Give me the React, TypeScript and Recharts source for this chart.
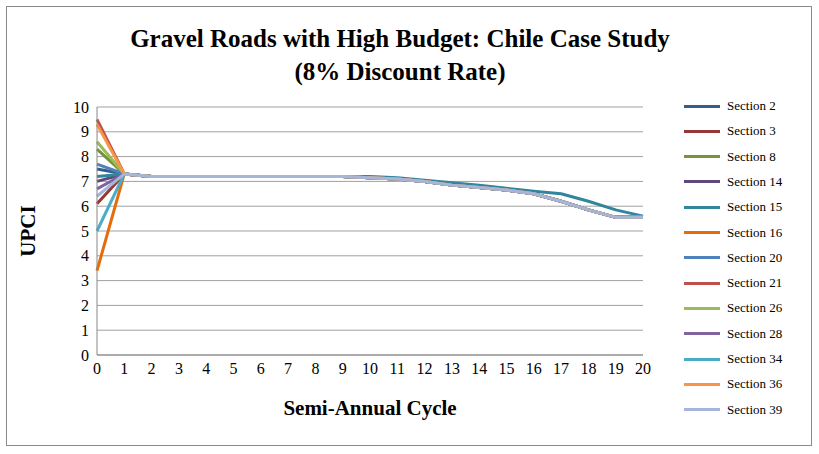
import * as React from 'react';
import { CartesianGrid, Line, LineChart, XAxis, YAxis } from 'recharts';

const CYCLES = Array.from({ length: 21 }, (_, i) => i);
const SECTIONS = ['Section 2', 'Section 3', 'Section 8', 'Section 14', 'Section 15', 'Section 16', 'Section 20', 'Section 21', 'Section 26', 'Section 28', 'Section 34', 'Section 36', 'Section 39'];
const COLORS = ['#385D8A', '#953735', '#77933C', '#5F497A', '#31859C', '#E46C0A', '#4F81BD', '#C0504D', '#9BBB59', '#8064A2', '#4BACC6', '#F79646', '#A5B6DA'];
// value at cycle 0 for each section
const START = [7.5, 6.1, 8.3, 7.0, 7.2, 3.4, 7.7, 9.5, 8.6, 6.7, 5.0, 9.3, 6.4];
// cycles 1..20
const MAIN_TAIL = [7.3, 7.2, 7.2, 7.2, 7.2, 7.2, 7.2, 7.2, 7.2, 7.15, 7.1, 7.0, 6.85, 6.75, 6.65, 6.5, 6.2, 5.85, 5.55, 5.55];
const S15_TAIL = [7.3, 7.2, 7.2, 7.2, 7.2, 7.2, 7.2, 7.2, 7.2, 7.2, 7.15, 7.05, 6.95, 6.85, 6.72, 6.6, 6.5, 6.2, 5.85, 5.6];

const data = CYCLES.map(c => {
  const row: Record<string, number> = { cycle: c };
  SECTIONS.forEach((s, i) => {
    const tail = s === 'Section 15' ? S15_TAIL : MAIN_TAIL;
    row[s] = c === 0 ? START[i] : tail[c - 1];
  });
  return row;
});

const FONT = '"Times New Roman", "Liberation Serif", serif';

export default function App() {
  return (
    <div style={{ position: 'fixed', left: 0, top: 0, width: 819, height: 454, background: '#fff', fontFamily: FONT }}>
      <div style={{ position: 'absolute', left: 6, top: 6, width: 804, height: 438, border: '1px solid #8a8a8a' }} />
      <div style={{ position: 'absolute', left: 60, width: 680, top: 22, textAlign: 'center', fontWeight: 'bold', fontSize: 25, lineHeight: '33px' }}>
        Gravel Roads with High Budget: Chile Case Study
        <br />
        (8% Discount Rate)
      </div>
      <div style={{ position: 'absolute', left: 28, top: 231, transform: 'translate(-50%,-50%) rotate(-90deg)', fontWeight: 'bold', fontSize: 21 }}>UPCI</div>
      <div style={{ position: 'absolute', left: 97, width: 546, top: 396, textAlign: 'center', fontWeight: 'bold', fontSize: 21 }}>Semi-Annual Cycle</div>
      <LineChart width={819} height={454} data={data} margin={{ top: 107, right: 176, bottom: 74, left: 67 }} style={{ position: 'absolute', left: 0, top: 0 }}>
        <CartesianGrid vertical={false} stroke="#a0a0a0" />
        <XAxis dataKey="cycle" type="number" domain={[0, 20]} ticks={CYCLES} height={25} interval={0} tickLine={false} stroke="#888" tick={{ fill: '#000', fontSize: 16, fontFamily: FONT }} />
        <YAxis domain={[0, 10]} ticks={[0, 1, 2, 3, 4, 5, 6, 7, 8, 9, 10]} width={30} tickLine={false} stroke="#888" tick={{ fill: '#000', fontSize: 16, fontFamily: FONT }} />
        {SECTIONS.map((s, i) => (
          <Line key={s} dataKey={s} stroke={COLORS[i]} strokeWidth={3} dot={false} isAnimationActive={false} />
        ))}
      </LineChart>
      {SECTIONS.map((s, i) => (
        <div key={s} style={{ position: 'absolute', left: 684, top: 97 + i * 25.3, height: 18, display: 'flex', alignItems: 'center', fontSize: 13 }}>
          <span style={{ display: 'inline-block', width: 36, height: 3, background: COLORS[i], marginRight: 7 }} />
          {s}
        </div>
      ))}
    </div>
  );
}
